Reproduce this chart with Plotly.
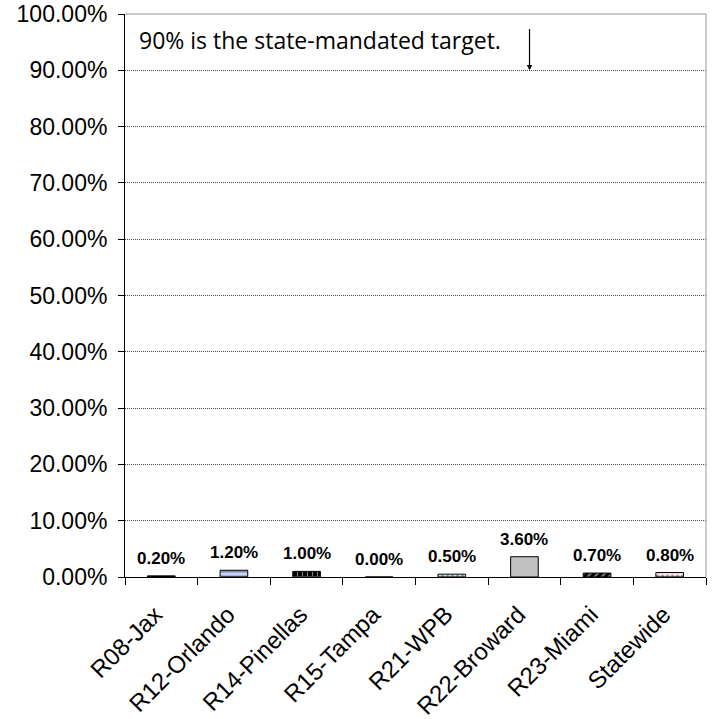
import plotly.graph_objects as go

# Regional completion rates (percent)
regions = ["R08-Jax", "R12-Orlando", "R14-Pinellas", "R15-Tampa",
           "R21-WPB", "R22-Broward", "R23-Miami", "Statewide"]
rates = [0.20, 1.20, 1.00, 0.00, 0.50, 3.60, 0.70, 0.80]
rate_labels = ["0.20%", "1.20%", "1.00%", "0.00%", "0.50%", "3.60%", "0.70%", "0.80%"]
y_ticks = [0, 10, 20, 30, 40, 50, 60, 70, 80, 90, 100]
y_tick_text = ["0.00%", "10.00%", "20.00%", "30.00%", "40.00%", "50.00%",
               "60.00%", "70.00%", "80.00%", "90.00%", "100.00%"]
target = 90

fill_colors = ["#000000", "#c8d4ff", "#000000", "#ffffff",
               "#c8f0f0", "#c0c0c0", "#000000", "#f4e0e8"]
pattern_shapes = ["", "-", "+", "", ".", "", "/", "."]
pattern_fg = ["#000000", "#1f3fe0", "#ffffff", "#000000",
              "#20a0a0", "#000000", "#ffffff", "#c06080"]

fig = go.Figure()
fig.add_trace(go.Bar(
    x=regions, y=rates,
    marker=dict(
        color=fill_colors,
        line=dict(color="#000000", width=1),
        pattern=dict(shape=pattern_shapes, fgcolor=pattern_fg,
                     size=5, solidity=0.4, fillmode="overlay"),
    ),
    width=0.38,
    hoverinfo="skip",
))

for cat, val, lab in zip(regions, rates, rate_labels):
    fig.add_annotation(x=cat, y=val, text="<b>" + lab + "</b>", showarrow=False,
                       yanchor="bottom", yshift=6,
                       font=dict(family="Arial", size=17, color="#000000"))

# Note about the target, with a pointer down to the 90% line
fig.add_annotation(x=0.02, xref="paper", y=95.3, yref="y",
                   text="90% is the state-mandated target.",
                   showarrow=False, xanchor="left", yanchor="middle",
                   font=dict(family="Open Sans", size=23, color="#000000"))
fig.add_annotation(x=5.07, y=target, ax=5.07, ay=97.6, xref="x", yref="y",
                   axref="x", ayref="y", showarrow=True, arrowhead=2,
                   arrowsize=0.9, arrowwidth=1.2, arrowcolor="#000000", text="")

fig.update_layout(
    width=712, height=719,
    margin=dict(l=125, r=6, t=14, b=142),
    paper_bgcolor="#ffffff", plot_bgcolor="#ffffff",
    showlegend=False,
    bargap=0.62,
)
fig.update_xaxes(
    type="category", tickson="boundaries", ticks="outside", ticklen=7,
    tickcolor="#000000", tickangle=-45, automargin=False,
    tickfont=dict(family="Arial", size=24, color="#000000"),
    ticklabelstandoff=13, ticklabelshift=-6,
    showline=True, linecolor="#000000", linewidth=1, mirror=False,
    showgrid=False,
)
fig.update_yaxes(
    range=[0, 100], tickvals=y_ticks, ticktext=y_tick_text,
    ticks="outside", ticklen=6, tickcolor="#000000", automargin=False,
    tickfont=dict(family="Arial", size=23, color="#000000"),
    ticklabelstandoff=6,
    showline=True, linecolor="#000000", linewidth=1,
    showgrid=True, gridcolor="#505050", griddash="1px,1px", gridwidth=1,
    zeroline=False,
)
# Light frame around the top and right of the plot area
fig.add_shape(type="line", xref="paper", yref="paper", x0=0, x1=1, y0=1, y1=1,
              line=dict(color="#999999", width=1))
fig.add_shape(type="line", xref="paper", yref="paper", x0=1, x1=1, y0=0, y1=1,
              line=dict(color="#999999", width=1))

fig.write_html("out.html")
